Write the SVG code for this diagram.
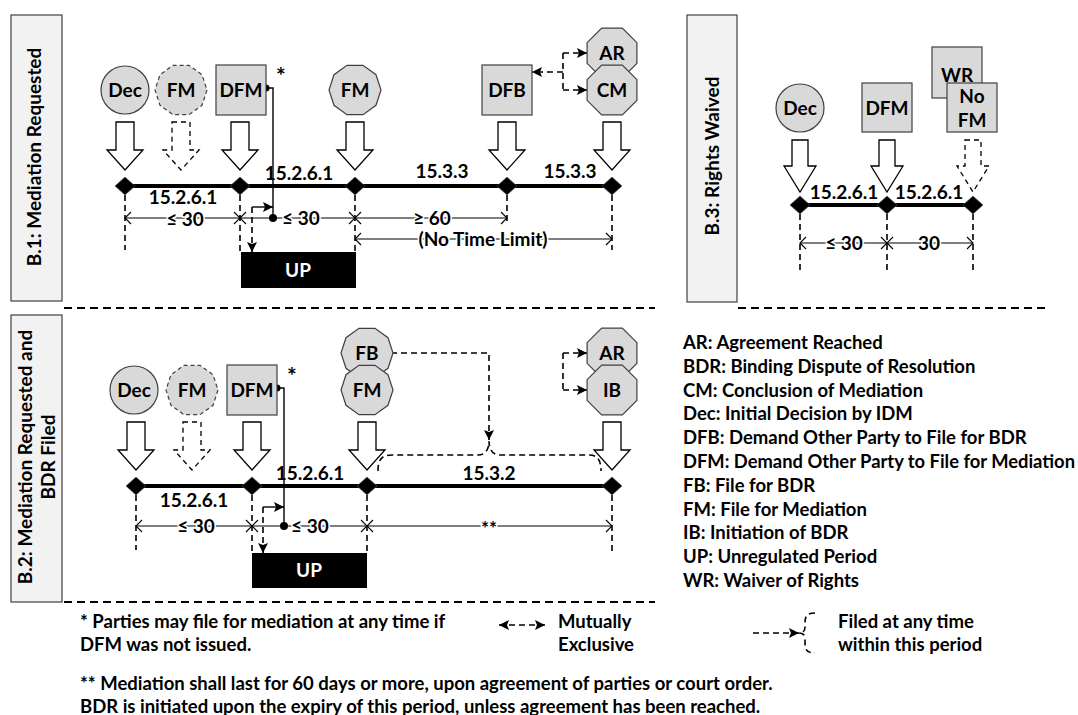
<svg xmlns="http://www.w3.org/2000/svg" width="1078" height="715" viewBox="0 0 1078 715">
<style>
.t{font-family:Lato,"Liberation Sans",sans-serif;font-weight:700;font-size:19px;fill:#000}
.s{font-size:18.5px}
.st{font-size:23px}
.m{text-anchor:middle}
.dt{stroke:#fff;stroke-width:3px;paint-order:stroke;stroke-linejoin:round}
.lbl{fill:#f2f2f2;stroke:#404040;stroke-width:1.2}
.nd{fill:#d9d9d9;stroke:#404040;stroke-width:1.2}
.ndd{fill:#d9d9d9;stroke:#404040;stroke-width:1.2;stroke-dasharray:4 3}
.ba{fill:#fff;stroke:#000;stroke-width:1.3}
.bad{fill:#fff;stroke:#000;stroke-width:1.3;stroke-dasharray:5 4}
.tl{stroke:#000;stroke-width:4;fill:none}
.dim{stroke:#000;stroke-width:1.1;fill:none}
.vd{stroke:#000;stroke-width:1.6;stroke-dasharray:6 4;fill:none}
.cd{stroke:#000;stroke-width:1.6;stroke-dasharray:6 4;fill:none}
.cs{stroke:#000;stroke-width:1.4;fill:none}
.sep{stroke:#000;stroke-width:1.8;stroke-dasharray:8 5;fill:none}
.up{fill:#000}
.upt{fill:#fff}
</style>
<defs>
<marker id="ah" viewBox="0 0 10 10" refX="10" refY="5" markerWidth="10" markerHeight="10" markerUnits="userSpaceOnUse" orient="auto-start-reverse"><path d="M0 0L10 5L0 10L2 5Z" fill="#000"/></marker>
<path id="dm" d="M-10 0L0-9L10 0L0 9Z" fill="#000" stroke="#555" stroke-width="0.6"/>
<polygon id="dec" points="26,0 21,15.3 8,24.7 -8,24.7 -21,15.3 -26,0 -21,-15.3 -8,-24.7 8,-24.7 21,-15.3"/>
<polygon id="oct" points="24.9,10.3 10.3,24.9 -10.3,24.9 -24.9,10.3 -24.9,-10.3 -10.3,-24.9 10.3,-24.9 24.9,-10.3"/>
<path id="chl" d="M6-6L0 0L6 6"/>
<path id="chr" d="M-6-6L0 0L-6 6"/>
</defs>

<!-- section frames -->
<g id="frames">
<rect class="lbl" x="11" y="15" width="51" height="286"/>
<text class="t m" transform="translate(41,157) rotate(-90)">B.1: Mediation Requested</text>
<rect class="lbl" x="11" y="315" width="51" height="287"/>
<text class="t m" transform="translate(32,457) rotate(-90)">B.2: Mediation Requested and</text>
<text class="t m" transform="translate(55,457) rotate(-90)">BDR Filed</text>
<rect class="lbl" x="687" y="15" width="50" height="287"/>
<text class="t m" transform="translate(719,156) rotate(-90)">B.3: Rights Waived</text>
<path class="sep" d="M64 308H655M64 602H655M738 308H1045"/>
</g>

<!-- connectors -->
<g id="connectors">
<!-- timelines -->
<path class="tl" d="M125 186H612M136 486H612M800 205H973"/>
<!-- block arrows B.1 -->
<path class="ba" d="M116 122H134V150H143L125 170L107 150H116Z"/>
<path class="bad" d="M172 122H190V150H199L181 170L163 150H172Z"/>
<path class="ba" d="M231 122H249V150H258L240 170L222 150H231Z"/>
<path class="ba" d="M346 122H364V150H373L355 170L337 150H346Z"/>
<path class="ba" d="M498 122H516V150H525L507 170L489 150H498Z"/>
<path class="ba" d="M603 122H621V150H630L612 170L594 150H603Z"/>
<!-- block arrows B.2 -->
<path class="ba" d="M127 422H145V450H154L136 470L118 450H127Z"/>
<path class="bad" d="M183 422H201V450H210L192 470L174 450H183Z"/>
<path class="ba" d="M243 422H261V450H270L252 470L234 450H243Z"/>
<path class="ba" d="M358 422H376V450H385L367 470L349 450H358Z"/>
<path class="ba" d="M603 422H621V450H630L612 470L594 450H603Z"/>
<!-- block arrows B.3 -->
<path class="ba" d="M792 140H808V166H816L800 192L784 166H792Z"/>
<path class="ba" d="M879 140H895V166H903L887 192L871 166H879Z"/>
<path class="bad" d="M965 140H981V166H989L973 192L957 166H965Z"/>
<!-- dashed drop lines -->
<path class="vd" d="M125 195V250M240 195V252M355 195V252M507 195V222M612 195V250"/>
<path class="vd" d="M136 495V550M252 495V553M367 495V553M612 495V552"/>
<path class="vd" d="M800 214V270M887 214V270M973 214V270"/>
<!-- dimension lines -->
<path class="dim" d="M125 218H507M355 239H612M136 526H612M800 243H973"/>
<g class="dim">
<use href="#chl" x="125" y="218"/><use href="#chr" x="240" y="218"/><use href="#chl" x="240" y="218"/>
<use href="#chr" x="355" y="218"/><use href="#chl" x="355" y="218"/><use href="#chr" x="507" y="218"/>
<use href="#chl" x="355" y="239"/><use href="#chr" x="612" y="239"/>
<use href="#chl" x="136" y="526"/><use href="#chr" x="252" y="526"/><use href="#chl" x="252" y="526"/>
<use href="#chr" x="367" y="526"/><use href="#chl" x="367" y="526"/><use href="#chr" x="612" y="526"/>
<use href="#chl" x="800" y="243"/><use href="#chr" x="887" y="243"/><use href="#chl" x="887" y="243"/><use href="#chr" x="973" y="243"/>
</g>
<!-- diamonds -->
<use href="#dm" x="125" y="186"/><use href="#dm" x="240" y="186"/><use href="#dm" x="355" y="186"/><use href="#dm" x="507" y="186"/><use href="#dm" x="612" y="186"/>
<use href="#dm" x="136" y="486"/><use href="#dm" x="252" y="486"/><use href="#dm" x="367" y="486"/><use href="#dm" x="612" y="486"/>
<use href="#dm" x="800" y="205"/><use href="#dm" x="887" y="205"/><use href="#dm" x="973" y="205"/>
<!-- DFM star connectors -->
<path class="cs" d="M266 88H273V218"/>
<circle cx="266" cy="88" r="3.5"/><circle cx="273" cy="218" r="4"/>
<path class="cs" d="M277 388H284V526"/>
<circle cx="277" cy="388" r="3.5"/><circle cx="284" cy="526" r="4"/>
<!-- UP elbows -->
<path class="cd" d="M252 207V252" marker-end="url(#ah)"/>
<path class="cs" d="M252 207H273" marker-end="url(#ah)"/>
<path class="cd" d="M263 507V553" marker-end="url(#ah)"/>
<path class="cs" d="M263 507H284" marker-end="url(#ah)"/>
<!-- mutually exclusive B.1 -->
<path class="cd" d="M563 53V90"/>
<path class="cd" d="M563 53H587" marker-end="url(#ah)"/>
<path class="cd" d="M563 90H587" marker-end="url(#ah)"/>
<path class="cd" d="M563 72H532" marker-end="url(#ah)"/>
<!-- B.2 -->
<path class="cd" d="M563 353V390"/>
<path class="cd" d="M563 353H587" marker-end="url(#ah)"/>
<path class="cd" d="M563 390H587" marker-end="url(#ah)"/>
<path class="cd" d="M391 353H489V440" marker-end="url(#ah)"/>
<path class="cd" d="M378 471C378 460 381 455 392 455H478C485 455 489 450 489 441C489 450 493 455 500 455H589C598 455 601 461 601 471"/>
<!-- legend symbols -->
<path class="cd" d="M499 625H545" marker-start="url(#ah)" marker-end="url(#ah)"/>
<path class="cd" d="M753 633H799" marker-end="url(#ah)"/>
<path class="cd" d="M815 613C806 613 805 617 805 623V627C805 631 803 633 799 633C803 633 805 635 805 639V643C805 649 806 653 815 653"/>
</g>

<!-- B.1 nodes -->
<g id="b1-dec"><circle class="nd" cx="125" cy="90" r="24"/><text class="t m" x="125" y="97">Dec</text></g>
<g id="b1-fm-opt"><use href="#dec" class="ndd" x="181" y="90"/><text class="t m" x="181" y="97">FM</text></g>
<g id="b1-dfm"><rect class="nd" x="216" y="65" width="50" height="50"/><text class="t m" x="241" y="97">DFM</text><text class="t st m" x="281" y="84">*</text></g>
<g id="b1-fm"><use href="#dec" class="nd" x="355" y="90"/><text class="t m" x="355" y="97">FM</text></g>
<g id="b1-dfb"><rect class="nd" x="482" y="65" width="50" height="50"/><text class="t m" x="507" y="97">DFB</text></g>
<g id="b1-ar"><use href="#oct" class="nd" x="612" y="53"/><text class="t m" x="612" y="60">AR</text></g>
<g id="b1-cm"><use href="#oct" class="nd" x="612" y="90"/><text class="t m" x="612" y="97">CM</text></g>
<g id="b1-up"><rect class="up" x="241" y="252" width="115" height="36"/><text class="t m upt" x="298" y="277">UP</text></g>
<g id="b1-labels">
<text class="t m" x="183" y="204">15.2.6.1</text>
<text class="t m" x="299" y="180">15.2.6.1</text>
<text class="t m" x="442" y="178">15.3.3</text>
<text class="t m" x="570" y="178">15.3.3</text>
<text class="t m dt" x="185" y="226">≤ 30</text>
<text class="t dt" x="282" y="225">≤ 30</text>
<text class="t m dt" x="432" y="225">≥ 60</text>
<text class="t m dt" x="483" y="246">(No Time Limit)</text>
</g>

<!-- B.2 nodes -->
<g id="b2-dec"><circle class="nd" cx="134" cy="390" r="24"/><text class="t m" x="134" y="397">Dec</text></g>
<g id="b2-fm-opt"><use href="#dec" class="ndd" x="192" y="390"/><text class="t m" x="192" y="397">FM</text></g>
<g id="b2-dfm"><rect class="nd" x="227" y="365" width="50" height="50"/><text class="t m" x="252" y="397">DFM</text><text class="t st m" x="292" y="384">*</text></g>
<g id="b2-fb"><use href="#dec" class="nd" x="367" y="353"/><text class="t m" x="367" y="360">FB</text></g>
<g id="b2-fm"><use href="#dec" class="nd" x="367" y="390"/><text class="t m" x="367" y="397">FM</text></g>
<g id="b2-ar"><use href="#oct" class="nd" x="612" y="353"/><text class="t m" x="612" y="360">AR</text></g>
<g id="b2-ib"><use href="#oct" class="nd" x="612" y="390"/><text class="t m" x="612" y="397">IB</text></g>
<g id="b2-up"><rect class="up" x="252" y="553" width="115" height="35"/><text class="t m upt" x="309" y="577">UP</text></g>
<g id="b2-labels">
<text class="t m" x="194" y="507">15.2.6.1</text>
<text class="t m" x="310" y="480">15.2.6.1</text>
<text class="t m" x="489" y="480">15.3.2</text>
<text class="t m dt" x="196" y="533">≤ 30</text>
<text class="t dt" x="291" y="533">≤ 30</text>
<text class="t m dt" x="489" y="535">**</text>
</g>

<!-- B.3 nodes -->
<g id="b3-dec"><circle class="nd" cx="800" cy="108" r="24"/><text class="t m" x="800" y="115">Dec</text></g>
<g id="b3-dfm"><rect class="nd" x="862" y="83" width="50" height="49"/><text class="t m" x="887" y="115">DFM</text></g>
<g id="b3-wr"><rect class="nd" x="932" y="47" width="50" height="51"/><text class="t m" x="957" y="82">WR</text></g>
<g id="b3-nofm"><rect class="nd" x="947" y="83" width="50" height="49"/><text class="t m" x="972" y="103">No</text><text class="t m" x="972" y="127">FM</text></g>
<g id="b3-labels">
<text class="t m" x="844" y="199">15.2.6.1</text>
<text class="t m" x="929" y="199">15.2.6.1</text>
<text class="t m dt" x="844" y="250">≤ 30</text>
<text class="t m dt" x="929" y="250">30</text>
</g>

<!-- legend -->
<g id="legend">
<text class="t s" x="683" y="349">AR: Agreement Reached</text>
<text class="t s" x="683" y="372.8">BDR: Binding Dispute of Resolution</text>
<text class="t s" x="683" y="396.6">CM: Conclusion of Mediation</text>
<text class="t s" x="683" y="420.4">Dec: Initial Decision by IDM</text>
<text class="t s" x="683" y="444.2">DFB: Demand Other Party to File for BDR</text>
<text class="t s" x="683" y="468" textLength="392" lengthAdjust="spacingAndGlyphs">DFM: Demand Other Party to File for Mediation</text>
<text class="t s" x="683" y="491.8">FB: File for BDR</text>
<text class="t s" x="683" y="515.6">FM: File for Mediation</text>
<text class="t s" x="683" y="539.4">IB: Initiation of BDR</text>
<text class="t s" x="683" y="563.2">UP: Unregulated Period</text>
<text class="t s" x="683" y="587">WR: Waiver of Rights</text>
</g>

<g id="notes">
<text class="t s" x="80" y="628">* Parties may file for mediation at any time if</text>
<text class="t s" x="80" y="651">DFM was not issued.</text>
<text class="t s" x="558" y="628">Mutually</text>
<text class="t s" x="558" y="651">Exclusive</text>
<text class="t s" x="838" y="628">Filed at any time</text>
<text class="t s" x="838" y="651">within this period</text>
<text class="t s" x="80" y="690">** Mediation shall last for 60 days or more, upon agreement of parties or court order.</text>
<text class="t s" x="80" y="713">BDR is initiated upon the expiry of this period, unless agreement has been reached.</text>
</g>
</svg>
